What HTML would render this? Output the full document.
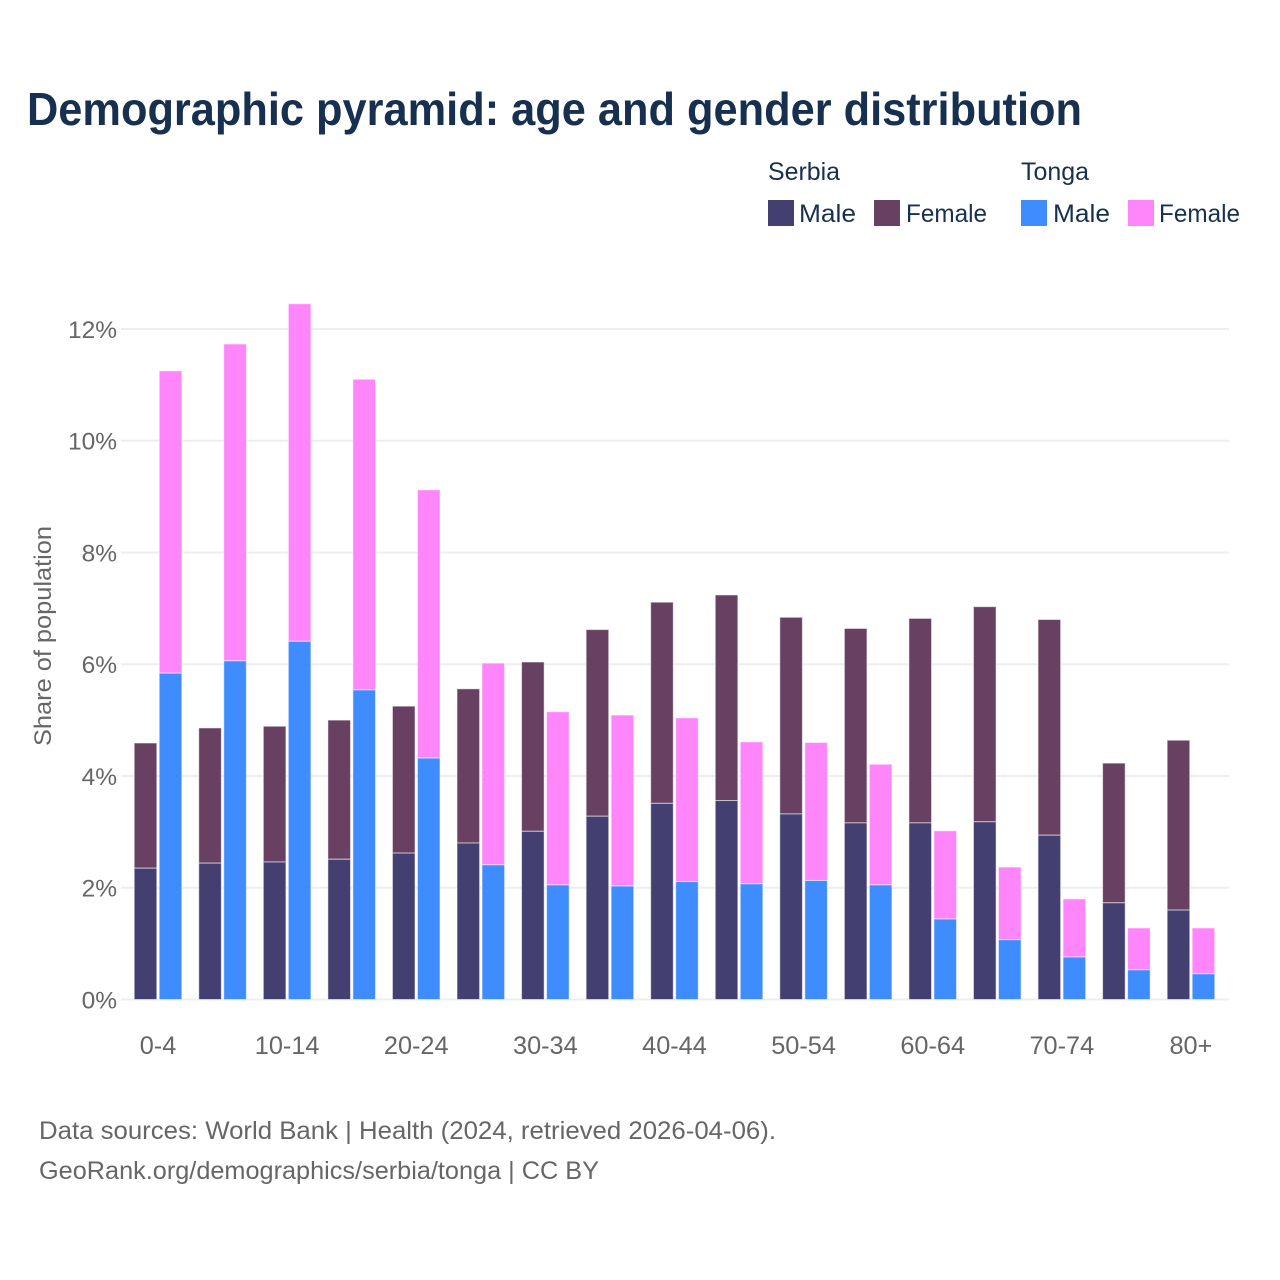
<!DOCTYPE html>
<html lang="en">
<head>
<meta charset="utf-8">
<title>Demographic pyramid</title>
<style>
html,body{margin:0;padding:0;background:#fff;}
svg{display:block;font-family:"Liberation Sans",sans-serif;}
</style>
</head>
<body>
<svg id="chart" width="1280" height="1280" viewBox="0 0 1280 1280" xmlns="http://www.w3.org/2000/svg">
  <rect width="1280" height="1280" fill="#ffffff"/>
  <text x="27" y="125" font-size="46" font-weight="700" fill="#17304f" textLength="1055" lengthAdjust="spacingAndGlyphs">Demographic pyramid: age and gender distribution</text>

  <g font-size="25" fill="#17304f">
    <text x="768" y="180" textLength="72" lengthAdjust="spacingAndGlyphs">Serbia</text>
    <text x="1021" y="180" textLength="68" lengthAdjust="spacingAndGlyphs">Tonga</text>
    <rect x="768" y="200" width="26" height="26" fill="#433f70"/>
    <text x="799" y="222" textLength="57" lengthAdjust="spacingAndGlyphs">Male</text>
    <rect x="874" y="200" width="26" height="26" fill="#684162"/>
    <text x="906" y="222" textLength="81" lengthAdjust="spacingAndGlyphs">Female</text>
    <rect x="1021" y="200" width="26" height="26" fill="#3f8cff"/>
    <text x="1053" y="222" textLength="57" lengthAdjust="spacingAndGlyphs">Male</text>
    <rect x="1128" y="200" width="26" height="26" fill="#ff85fb"/>
    <text x="1159" y="222" textLength="81" lengthAdjust="spacingAndGlyphs">Female</text>
  </g>

  <g id="grid"></g>
  <g id="bars"></g>
  <g id="yticks"></g>
  <g id="xticks"></g>

  <text transform="translate(51,636) rotate(-90)" text-anchor="middle" font-size="24" fill="#666666" textLength="220" lengthAdjust="spacingAndGlyphs">Share of population</text>

  <text x="39" y="1139" font-size="25" fill="#666666" textLength="737" lengthAdjust="spacingAndGlyphs">Data sources: World Bank | Health (2024, retrieved 2026-04-06).</text>
  <text x="39" y="1179" font-size="25" fill="#666666" textLength="560" lengthAdjust="spacingAndGlyphs">GeoRank.org/demographics/serbia/tonga | CC BY</text>
</svg>
<script>
const categories = ["0-4","5-9","10-14","15-19","20-24","25-29","30-34","35-39","40-44","45-49","50-54","55-59","60-64","65-69","70-74","75-79","80+"];
const serbiaMale = [2.35,2.44,2.46,2.51,2.62,2.80,3.01,3.28,3.51,3.56,3.32,3.16,3.16,3.18,2.94,1.73,1.60];
const serbiaFemale = [2.24,2.42,2.43,2.49,2.63,2.76,3.03,3.34,3.60,3.68,3.52,3.48,3.66,3.85,3.86,2.50,3.04];
const tongaMale = [5.84,6.06,6.41,5.54,4.32,2.41,2.05,2.03,2.11,2.07,2.13,2.05,1.44,1.07,0.76,0.53,0.46];
const tongaFemale = [5.41,5.67,6.04,5.56,4.80,3.61,3.10,3.06,2.93,2.54,2.47,2.16,1.58,1.30,1.04,0.75,0.82];
const yTicks = [0,2,4,6,8,10,12];

const NS = "http://www.w3.org/2000/svg";
const y0 = 999.5, pxPerUnit = 55.88;
const xFirst = 158, xStep = 64.56, barW = 22.6, barGap = 1.2;
function yScale(v){ return y0 - v * pxPerUnit; }
function xCenter(i){ return xFirst + i * xStep; }

function mk(tag, parent, attrs){
  const el = document.createElementNS(NS, tag);
  for (const k in attrs) el.setAttribute(k, attrs[k]);
  parent.appendChild(el);
  return el;
}

const grid = document.getElementById("grid");
const yG = document.getElementById("yticks");
const xG = document.getElementById("xticks");
const barsG = document.getElementById("bars");

yTicks.forEach(function(t){
  const line = mk("line", grid, {x1:121, x2:1229, y1:yScale(t), y2:yScale(t), stroke:"#eeeeee", "stroke-width":2});
  
  
  const label = mk("text", yG, {x:117, y:yScale(t)+9, "text-anchor":"end", "font-size":24.5, fill:"#666666"});
  
  
  label.textContent = t + "%";
});

categories.forEach(function(cat, i){
  if (i % 2 === 0) {
    const label = mk("text", xG, {x:xCenter(i), y:1054, "text-anchor":"middle", "font-size":25.3, fill:"#666666"});
    
    
    label.textContent = cat;
  }
});

function drawStack(i, x, maleVal, femaleVal, maleColor, femaleColor, country){
  const top = maleVal + femaleVal;
  const female = mk("rect", barsG, {x:x, y:yScale(top), width:barW, height:yScale(maleVal)-yScale(top), fill:femaleColor, stroke:"#ffffff", "stroke-opacity":0.55, "stroke-width":1});
  
  
  const male = mk("rect", barsG, {x:x, y:yScale(maleVal), width:barW, height:yScale(0)-yScale(maleVal), fill:maleColor, stroke:"#ffffff", "stroke-opacity":0.55, "stroke-width":1});
  
  
}

categories.forEach(function(cat, i){
  const c = xCenter(i);
  drawStack(i, c - barW - barGap, serbiaMale[i], serbiaFemale[i], "#433f70", "#684162", "serbia");
  drawStack(i, c + barGap, tongaMale[i], tongaFemale[i], "#3f8cff", "#ff85fb", "tonga");
});
</script>
</body>
</html>
